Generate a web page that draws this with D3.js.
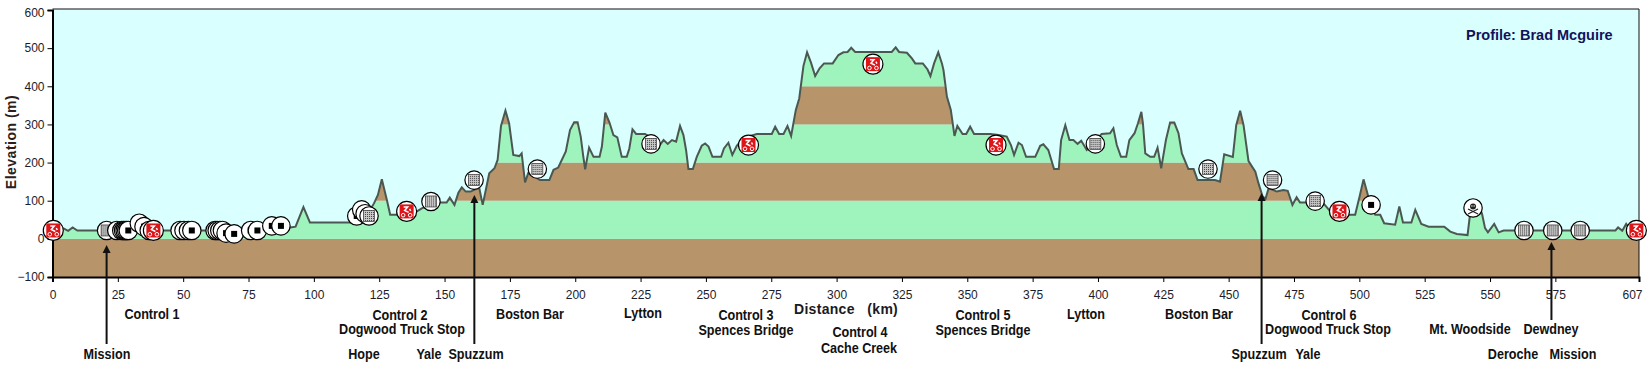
<!DOCTYPE html>
<html lang="en">
<head>
<meta charset="UTF-8">
<title>Elevation profile</title>
<script src="https://d3js.org/d3.v7.min.js"></script>
<style>
  html, body { margin: 0; padding: 0; background: #fff; }
  svg { display: block; }
  .tick text { font-family: "Liberation Sans", Arial, sans-serif; font-size: 12px; fill: #1c1c2c; }
  .place { font-family: "Liberation Sans", Arial, sans-serif; font-size: 14px; font-weight: bold; fill: #111; text-anchor: middle; }
</style>
</head>
<body>
<script>
// elevation profile as [km, metres]
var profile = [
    [0,22],[2,22],[4,28],[6,21],[7.7,30],[9.5,22],[20,22],[40,22],[60,22],[80,22],[88,22],[91,30],[93,32],[96,83],[98.5,43],
    [114,43],[117,48],[120,58],[123,93],[124.5,115],[126,156],[128,100],[129.2,63],[132,63],[137,65],[139.4,72],[141.3,80],[145,92],
    [148.3,95],[150.8,95],[152,108],[153.8,89],[155.3,121],[156.6,135],[158.1,124],[160,124],[161.7,130],[163.3,133],[164.6,89],
    [167.1,172],[169.1,185],[170.3,207],[171.6,296],[173.3,336],[174.7,303],[176.3,220],[178.6,217],[179.5,224],[180.8,148],[182,172],
    [184,165],[186.5,154],[190.1,154],[191.7,181],[193.5,187],[196.4,229],[198,285],[199.6,306],[200.9,306],[202.1,268],[203.1,215],
    [203.8,182],[205.3,239],[207,215],[209.3,215],[210.2,242],[211.5,331],[213.1,305],[214.6,272],[216.1,266],[217.8,215],[219.7,215],
    [220.7,237],[221.9,287],[223.3,275],[226.7,275],[229,265],[231.9,242],[233.8,259],[235.4,249],[237,259],[238.6,255],[240.1,296],
    [241.4,272],[242.4,233],[243.3,183],[245,183],[246.5,215],[248.4,244],[249.7,250],[251,242],[252.5,215],[255.8,215],[256.9,237],
    [258.6,252],[260.1,220],[261.8,244],[263.7,259],[266,268],[269.5,275],[275.2,275],[276.5,294],[278,275],[279.7,275],[281.2,296],
    [282.6,270],[284.4,338],[285.7,368],[287.3,453],[288.7,489],[290.2,462],[291.8,427],[293.5,447],[295.2,460],[298.5,460],[300.7,482],
    [302.6,489],[304.2,490],[305.6,501],[307.1,490],[312,490],[316.6,490],[321.1,490],[322.6,502],[323.9,490],[326.9,488],[328.8,473],
    [330.1,460],[333,460],[334.8,444],[335.9,427],[337.3,460],[338.9,489],[340.3,460],[340.9,442],[342.2,373],[343.7,338],[345.1,270],
    [346.2,296],[348.2,275],[349.6,275],[351.1,294],[352.6,275],[358.8,275],[362,272],[365.1,268],[366.7,246],[367.9,220],[369.6,252],
    [370.9,246],[372.5,215],[376,215],[377.9,244],[379.1,248],[381,233],[383.2,183],[385,183],[385.9,259],[387.5,298],[389.1,259],
    [390.6,259],[392.2,249],[393.6,257],[395.7,233],[397.6,245],[401.4,275],[404.6,277],[405.9,290],[407.2,246],[408.8,215],[410.8,215],
    [412,259],[414,277],[415.3,303],[416.6,333],[417.2,303],[418.1,224],[420,215],[421.5,215],[422.8,239],[424.2,185],[426,259],
    [427.6,305],[429.2,305],[430.8,277],[432.1,224],[434.6,183],[436.6,183],[438.1,154],[444.8,154],[446.7,150],[448.3,222],[451.6,215],
    [452.9,298],[454.4,336],[455.7,298],[457.6,204],[460.2,176],[461.4,146],[463,111],[464.1,105],[465.3,133],[468.4,124],[470.9,128],
    [472.6,126],[474.4,89],[476,109],[477.3,95],[479.6,95],[486.3,93],[488.9,72],[491,66],[495.2,63],[498.4,63],[500.1,111],[501.6,156],
    [502.9,124],[504,95],[506.1,63],[508,63],[509.5,41],[513.7,37],[515.3,85],[516.7,43],[519.9,43],[521.4,76],[523.7,39],[526.5,32],
    [532.5,32],[534.8,19],[537.3,13],[541.4,10],[542.4,67],[546.9,67],[548.1,28],[549.2,17],[551.6,39],[553.3,17],[555.2,22],[598,22],
    [599,30],[600.6,21],[602.1,39],[603.8,22],[607,22]
];

// stops along the route
var stopKm = [20.7,24.6,26.5,27.2,27.8,28.4,29,33.2,35,37,38.6,48.8,50.3,52,53.3,62.2,63,64,65,66.4,69.5,75.8,78.4,83.9,87.4,0.3,116.4,118.3,119.6,121.1,135.5,144.8,161.3,185.5,229,266.3,313.9,361,399,442.1,466.8,483.1,492.4,504.5,543.5,563,574,584.5,606];
var stopElev = [22,22,22,22,22,22,22,41,32,22,22,22,22,22,22,22,22,22,22,15,13,22,22,34,34,22,60,76,66,60,72,98,154,183,249,246,458,246,249,183,154,99,72,89,81,22,22,22,22];
var stopType = ["grid","dot","dot","dot","dot","dot","dot","dot","dot","dot","bike","dot","dot","dot","dot","dot","dot","dot","dot","dot","dot","dot","dot","dot","dot","bike","dot","dot","dot","grid","bike","grid","grid","grid","grid","bike","bike","bike","grid","grid","grid","grid","bike","dot","skull","grid","grid","grid","bike"];

var elevTicks = [-100,0,100,200,300,400,500,600];
var kmTicks = [0,25,50,75,100,125,150,175,200,225,250,275,300,325,350,375,400,425,450,475,500,525,550,575,607];
var bandLow = [-100,0,100,200,300,400,500];
var bandKind = ["earth","grass","earth","grass","earth","grass","earth"];

var placeNames = ["Control 1","Mission","Control 2","Dogwood Truck Stop","Hope","Yale","Spuzzum","Boston Bar","Lytton","Control 3","Spences Bridge","Control 4","Cache Creek","Control 5","Spences Bridge","Lytton","Boston Bar","Control 6","Dogwood Truck Stop","Spuzzum","Yale","Mt. Woodside","Dewdney","Deroche","Mission"];

var arrowKm = [20.7,161.4,462.6,573.5];

// layout below here
var w = 1649, h = 374;
var left = 52.5, right = 1639, top_ = 277, bottom = 10;
var bandColor = { earth: "#b8946a", grass: "#9ff3bd" };

var x = d3.scaleLinear().domain([0, 607]).range([left, right]);
var y = d3.scaleLinear().domain([-100, 600]).range([top_, bottom]);

var svg = d3.select("body").append("svg").attr("width", w).attr("height", h);
var defs = svg.append("defs");

var area = d3.area().x(function (d) { return x(d[0]); }).y0(y(-100)).y1(function (d) { return y(d[1]); });
var line = d3.line().x(function (d) { return x(d[0]); }).y(function (d) { return y(d[1]); });

defs.append("clipPath").attr("id", "under").append("path").attr("d", area(profile));
var grid = defs.append("pattern").attr("id", "dots").attr("width", 2).attr("height", 2).attr("patternUnits", "userSpaceOnUse");
grid.append("rect").attr("width", 2).attr("height", 2).attr("fill", "#c8c8c8");
grid.append("rect").attr("width", 1).attr("height", 1).attr("fill", "#444");

// sky
svg.append("rect").attr("x", left).attr("y", 9).attr("width", right - left).attr("height", y(-100) - 9).attr("fill", "#d9ffff");

// coloured bands under the profile
svg.append("g").attr("clip-path", "url(#under)").selectAll("rect").data(bandLow).enter().append("rect")
    .attr("x", left).attr("width", right - left)
    .attr("y", function (d) { return y(d + 100); })
    .attr("height", function (d) { return y(d) - y(d + 100); })
    .attr("fill", function (d, i) { return bandColor[bandKind[i]]; });

svg.append("path").attr("d", line(profile)).attr("fill", "none").attr("stroke", "#4b5852").attr("stroke-width", 2);

// frame
svg.append("path").attr("d", "M" + left + ",9H" + right + "V" + y(-100)).attr("fill", "none").attr("stroke", "#111").attr("stroke-width", 1);

// axes
var xAxis = d3.axisBottom(x).tickValues(kmTicks).tickSize(5).tickPadding(8).tickFormat(d3.format("d"));
var yAxis = d3.axisLeft(y).tickValues(elevTicks).tickSize(5).tickPadding(3).tickFormat(d3.format("d"));
var gx = svg.append("g").attr("transform", "translate(0," + y(-100) + ")").call(xAxis);
var gy = svg.append("g").attr("transform", "translate(" + left + ",0)").call(yAxis);
gx.select(".domain").attr("stroke", "#000").attr("stroke-width", 2);
gy.select(".domain").attr("stroke", "#000").attr("stroke-width", 2);
gx.selectAll(".tick line").attr("stroke", "#000");
gy.selectAll(".tick line").attr("stroke", "#000");
gx.selectAll(".tick text").filter(function (d) { return d === 607; }).attr("dx", -7);
gy.selectAll(".tick text").filter(function (d) { return d === 600; }).attr("dy", "0.55em");

// stops
var stops = svg.append("g").selectAll("g").data(stopKm).enter().append("g")
    .attr("transform", function (d, i) { return "translate(" + x(d) + "," + y(stopElev[i]) + ")"; });
stops.append("circle")
    .attr("r", function (d, i) { return stopType[i] === "bike" ? 10 : 9.2; })
    .attr("fill", "#fff").attr("stroke", "#000").attr("stroke-width", 1.2);

stops.each(function (d, i) {
    var g = d3.select(this), kind = stopType[i];
    if (kind === "dot") {
        g.append("rect").attr("x", -3).attr("y", -3).attr("width", 6).attr("height", 6).attr("fill", "#000");
    } else if (kind === "grid") {
        g.append("rect").attr("x", -5.5).attr("y", -5.5).attr("width", 11).attr("height", 11).attr("fill", "url(#dots)").attr("stroke", "#333").attr("stroke-width", 0.7);
    } else if (kind === "bike") {
        g.append("rect").attr("x", -7).attr("y", -7).attr("width", 14).attr("height", 14).attr("fill", "#dd1418");
        g.append("circle").attr("cx", -3.5).attr("cy", 3.8).attr("r", 1.8).attr("fill", "none").attr("stroke", "#fff");
        g.append("circle").attr("cx", 3.5).attr("cy", 3.8).attr("r", 1.8).attr("fill", "none").attr("stroke", "#fff");
        g.append("path").attr("d", "M-3,-4.5L1,-4.5L-2,-1L2,1M3,-2.5L4,-0.5").attr("fill", "none").attr("stroke", "#fff").attr("stroke-width", 1.5);
    } else {
        g.append("circle").attr("cy", -1.5).attr("r", 3).attr("fill", "#222");
        g.append("path").attr("d", "M-5,6L5,1M5,6L-5,1").attr("stroke", "#222").attr("stroke-width", 1.2);
        g.append("circle").attr("cx", -1.1).attr("cy", -2).attr("r", 0.7).attr("fill", "#fff");
        g.append("circle").attr("cx", 1.1).attr("cy", -2).attr("r", 0.7).attr("fill", "#fff");
    }
});

// arrows from the names up into the chart
var arrowFrom = [344, 344, 344, 320];
var arrowTip = [245, 195, 193, 242];
svg.append("g").selectAll("path").data(arrowKm).enter().append("path")
    .attr("d", function (d, i) { return "M" + x(d) + "," + arrowFrom[i] + "V" + (arrowTip[i] + 4); })
    .attr("stroke", "#111").attr("stroke-width", 2);
svg.append("g").selectAll("path").data(arrowKm).enter().append("path")
    .attr("d", function (d, i) {
        var ax = x(d), t = arrowTip[i];
        return "M" + ax + "," + t + "L" + (ax + 4) + "," + (t + 8) + "L" + (ax - 4) + "," + (t + 8) + "Z";
    })
    .attr("fill", "#111");

// place names, squeezed to look like the narrow face in the original
var placeX = [152,107,400,402,364,429,476,530,643,746,746,860,859,983,983,1086,1199,1329,1328,1259,1308,1470,1551,1513,1573];
var placeY = [314,354,315,329,354,354,354,314,313,315,330,332,348,315,330,314,314,315,329,354,354,329,329,354,354];
svg.append("g").selectAll("text").data(placeNames).enter().append("text")
    .attr("class", "place")
    .attr("transform", function (d, i) { return "translate(" + placeX[i] + "," + placeY[i] + ") scale(0.9,1)"; })
    .attr("dy", "0.35em")
    .text(function (d) { return d; });

// titles
svg.append("text").attr("transform", "translate(16,142) rotate(-90)").attr("text-anchor", "middle")
    .attr("font-family", "Liberation Sans, Arial, sans-serif").attr("font-size", 14).attr("font-weight", "bold")
    .attr("fill", "#2a2020").attr("letter-spacing", 0.5).text("Elevation (m)");
svg.append("text").attr("x", 794).attr("y", 314).style("white-space", "pre")
    .attr("font-family", "Liberation Sans, Arial, sans-serif").attr("font-size", 14).attr("font-weight", "bold")
    .attr("letter-spacing", 0.3).attr("fill", "#1a1a22").text("Distance   (km)");
svg.append("text").attr("x", 1466).attr("y", 40)
    .attr("font-family", "Liberation Sans, Arial, sans-serif").attr("font-size", 14.5).attr("font-weight", "bold")
    .attr("fill", "#12125c").text("Profile: Brad Mcguire");
</script>
</body>
</html>
